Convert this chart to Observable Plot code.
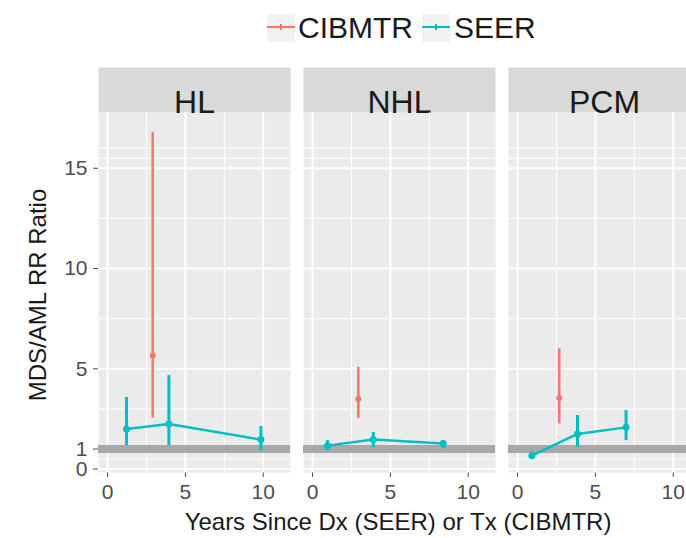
<!DOCTYPE html>
<html>
<head>
<meta charset="utf-8">
<script src="https://cdn.jsdelivr.net/npm/d3@7"></script>
<script src="https://cdn.jsdelivr.net/npm/@observablehq/plot@0.6"></script>
<style>
html, body { margin: 0; padding: 0; background: #fff; overflow: hidden; width: 686px; height: 538px; }
body { position: relative; font-family: "Liberation Sans", Arial, sans-serif; }
#legend { position: relative; height: 56px; }
.key { position: absolute; top: 14px; width: 28px; height: 28px; background: #F2F2F2; }
.lt { position: absolute; top: 10px; line-height: 36px; font-size: 30px; color: #1A1A1A; white-space: nowrap; }
#chart { position: relative; width: 705px; }
.ytitle { position: absolute; left: 38px; top: 295px; transform: translate(-50%, -50%) rotate(-90deg); font-size: 24px; color: #1A1A1A; white-space: nowrap; }
.xtitle { position: absolute; left: 398px; top: 522px; transform: translate(-50%, -50%); font-size: 24px; color: #1A1A1A; white-space: nowrap; }
</style>
</head>
<body>
<div id="legend"></div>
<div id="chart"></div>
<div class="ytitle">MDS/AML RR Ratio</div>
<div class="xtitle">Years Since Dx (SEER) or Tx (CIBMTR)</div>
<script>
// Facet panels
const panels = ["HL", "NHL", "PCM"];

// CIBMTR series (one estimate per panel)
const cibPanel = ["HL", "NHL", "PCM"];
const cibYears = [2.9, 2.94, 2.68];
const cibRatio = [5.66, 3.5, 3.55];
const cibLow   = [2.55, 2.52, 2.25];
const cibHigh  = [16.8, 5.08, 6.0];

// SEER series
const seerPanel = ["HL", "HL", "HL", "NHL", "NHL", "NHL", "PCM", "PCM", "PCM"];
const seerYears = [1.22, 3.94, 9.85, 0.96, 3.9, 8.39, 0.92, 3.85, 6.97];
const seerRatio = [2.0, 2.25, 1.47, 1.17, 1.47, 1.27, 0.67, 1.75, 2.08];
const seerLow   = [1.17, 1.17, 0.92, 0.92, 1.07, 1.02, 0.5, 1.09, 1.42];
const seerHigh  = [3.57, 4.66, 2.12, 1.42, 1.82, 1.42, 0.85, 2.67, 2.92];

// Axis ticks
const yBreaks = [0, 1, 5, 10, 15];
const yMinor = [0.5, 3, 7.5, 12.5, 15.5, 16];
const xBreaks = [0, 5, 10];
const xMinor = [2.5, 7.5];
const refLine = [1];

// Legend
const seriesNames = ["CIBMTR", "SEER"];
const seriesColors = ["#F8766D", "#00BFC4"];

const cib = cibPanel.map((p, i) => ({panel: p, years: cibYears[i], ratio: cibRatio[i], low: cibLow[i], high: cibHigh[i]}));
const seer = seerPanel.map((p, i) => ({panel: p, years: seerYears[i], ratio: seerRatio[i], low: seerLow[i], high: seerHigh[i]}));

// legend (HTML)
const legend = document.getElementById("legend");
const keyLefts = [267, 422], textLefts = [298, 454];
seriesNames.forEach((name, i) => {
  const k = document.createElement("div");
  k.className = "key";
  k.style.left = keyLefts[i] + "px";
  k.innerHTML = `<svg width="28" height="28"><line x1="0" x2="28" y1="13" y2="13" stroke="${seriesColors[i]}" stroke-width="2"/><line x1="14" x2="14" y1="10" y2="16" stroke="${seriesColors[i]}" stroke-width="2"/></svg>`;
  legend.appendChild(k);
  const t = document.createElement("div");
  t.className = "lt";
  t.style.left = textLefts[i] + "px";
  t.textContent = name;
  legend.appendChild(t);
});

const chart = Plot.plot({
  width: 705,
  height: 482,
  marginLeft: 97,
  marginRight: 5,
  marginTop: 56,
  marginBottom: 66,
  style: {fontFamily: "Liberation Sans, Arial, sans-serif", fontSize: "21px", color: "#4D4D4D", background: "transparent", overflow: "visible"},
  fx: {domain: panels, paddingInner: 0.0657, paddingOuter: 0, axis: null, label: null},
  x: {domain: [-0.58, 11.75], ticks: xBreaks, tickSize: 5, tickPadding: 7, label: null},
  y: {domain: [-0.17, 17.78], ticks: yBreaks, tickSize: 5, tickPadding: 6, label: null},
  marks: [
    Plot.frame({fill: "#EBEBEB"}),
    Plot.frame({fill: "#D9D9D9", insetTop: -45, insetBottom: 360}),
    Plot.text(panels, {fx: d => d, text: d => d, frameAnchor: "top", dy: -22, fontSize: 32, fill: "#1A1A1A"}),
    Plot.gridY(yMinor, {stroke: "#FFFFFF", strokeOpacity: 1, strokeWidth: 1}),
    Plot.gridX(xMinor, {stroke: "#FFFFFF", strokeOpacity: 1, strokeWidth: 1}),
    Plot.gridY(yBreaks, {stroke: "#FFFFFF", strokeOpacity: 1, strokeWidth: 2}),
    Plot.gridX(xBreaks, {stroke: "#FFFFFF", strokeOpacity: 1, strokeWidth: 2}),
    Plot.ruleY(refLine, {stroke: "#A8A8A8", strokeWidth: 8}),
    Plot.ruleX(cib, {fx: "panel", x: "years", y1: "low", y2: "high", stroke: seriesColors[0], strokeWidth: 2.5}),
    Plot.dot(cib, {fx: "panel", x: "years", y: "ratio", r: 3, fill: seriesColors[0], stroke: "none"}),
    Plot.line(seer, {fx: "panel", x: "years", y: "ratio", stroke: seriesColors[1], strokeWidth: 2.5}),
    Plot.ruleX(seer, {fx: "panel", x: "years", y1: "low", y2: "high", stroke: seriesColors[1], strokeWidth: 3}),
    Plot.dot(seer, {fx: "panel", x: "years", y: "ratio", r: 3.5, fill: seriesColors[1], stroke: "none"})
  ]
});
document.getElementById("chart").appendChild(chart);
</script>
</body>
</html>
